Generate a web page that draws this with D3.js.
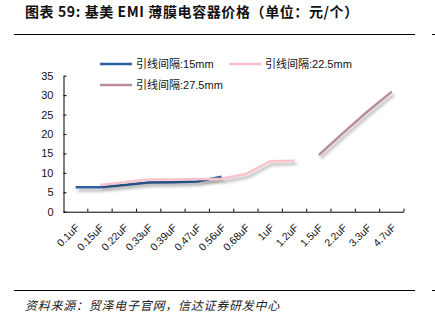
<!DOCTYPE html>
<html><head><meta charset="utf-8">
<script src="https://cdn.jsdelivr.net/npm/d3@7"></script>
<style>
html,body{margin:0;padding:0;background:#fff;}
svg{display:block;}
</style></head>
<body>
<svg id="c" width="435" height="329"></svg>
<script>
const categories = ["0.1uF","0.15uF","0.22uF","0.33uF","0.39uF","0.47uF","0.56uF","0.68uF","1uF","1.2uF","1.5uF","2.2uF","3.3uF","4.7uF"];
const seriesNames = ["引线间隔:15mm","引线间隔:22.5mm","引线间隔:27.5mm"];
const pitch15 = [6.3,6.3,6.9,7.5,7.6,7.8,9.0,null,null,null,null,null,null,null];
const pitch225 = [null,6.9,7.6,8.3,8.3,8.4,8.5,9.7,13.0,13.1,null,null,null,null];
const pitch275 = [null,null,null,null,null,null,null,null,null,null,14.6,20.3,25.8,30.9];
const yTicks = [0,5,10,15,20,25,30,35];
const titleText = "图表 59: 基美 EMI 薄膜电容器价格（单位：元/个）";
const sourceText = "资料来源：贸泽电子官网，信达证券研发中心";
const colors = ["#2F5E9E","#F8C3CB","#B98C9F"];

const svg = d3.select("#c");
const sansCJK = "'Liberation Sans','Noto Sans CJK SC',sans-serif";

const defs = svg.append("defs");
const f = defs.append("filter").attr("id","sh").attr("x","-10%").attr("y","-50%").attr("width","130%").attr("height","250%");
f.append("feDropShadow").attr("dx",2).attr("dy",3).attr("stdDeviation",1.6).attr("flood-color","#000").attr("flood-opacity",0.3);

// title
svg.append("text").attr("x",25).attr("y",17).attr("font-family","'Noto Sans CJK SC',sans-serif")
  .attr("font-weight","bold").attr("font-size",14).attr("letter-spacing",0.6).attr("fill","#111").text(titleText);
// rules
[34.5,290.5].forEach(y=>{
  svg.append("line").attr("x1",14).attr("x2",415).attr("y1",y).attr("y2",y).attr("stroke","#000").attr("stroke-width",1);
  svg.append("line").attr("x1",432).attr("x2",435).attr("y1",y).attr("y2",y).attr("stroke","#000").attr("stroke-width",1);
});
// source
svg.append("text").attr("x",25).attr("y",310).attr("font-family","'Noto Sans CJK SC',sans-serif")
  .attr("font-style","italic").attr("font-size",12).attr("letter-spacing",0.75).attr("fill","#222").text(sourceText);

const x = d3.scaleBand().domain(categories).range([63.5,404]).padding(0);
const y = d3.scaleLinear().domain([0,35]).range([211.7,75.7]);
const cx = c => x(c) + x.bandwidth()/2;

// y axis
const ya = svg.append("g").attr("transform","translate(63.5,0)")
  .call(d3.axisLeft(y).tickValues(yTicks).tickSizeInner(-3).tickSizeOuter(0).tickPadding(10));
ya.select(".domain").attr("stroke","#000");
ya.selectAll(".tick line").attr("stroke","#000");
ya.selectAll("text").attr("font-family",sansCJK).attr("font-size",11).attr("fill","#111");

// x axis
const xa = svg.append("g").attr("transform","translate(0,211.7)");
xa.call(d3.axisBottom(x).tickSize(0).tickPadding(0));
xa.select(".domain").attr("stroke","#000").attr("d","M63.5,0.5H404");
xa.selectAll(".tick text").attr("font-family",sansCJK).attr("font-size",10.5).attr("fill","#111")
  .attr("text-anchor","end").attr("y",0).attr("dy","0.35em")
  .attr("transform","translate(2,14) rotate(-45)");
xa.selectAll(".tickmark").data(categories).enter().append("line")
  .attr("x1",c=>x(c)+x.bandwidth()).attr("x2",c=>x(c)+x.bandwidth())
  .attr("y1",0).attr("y2",-3).attr("stroke","#000");

// lines
const series = [pitch15,pitch225,pitch275];
const line = d3.line().defined(d=>d.v!=null).x(d=>cx(d.c)).y(d=>y(d.v));
series.forEach((s,i)=>{
  const data = categories.map((c,j)=>({c:c,v:s[j]}));
  svg.append("path").datum(data).attr("d",line).attr("fill","none")
    .attr("stroke",colors[i]).attr("stroke-width",2.5).attr("filter","url(#sh)");
});

// legend
const leg = [{x:100,y:64},{x:229,y:64},{x:100,y:85}];
leg.forEach((p,i)=>{
  svg.append("line").attr("x1",p.x).attr("x2",p.x+32).attr("y1",p.y).attr("y2",p.y)
    .attr("stroke",colors[i]).attr("stroke-width",2.5);
  svg.append("text").attr("x",p.x+36).attr("y",p.y).attr("dy","0.35em")
    .attr("font-family",sansCJK).attr("font-size",11).attr("fill","#111").text(seriesNames[i]);
});
</script>
</body></html>
